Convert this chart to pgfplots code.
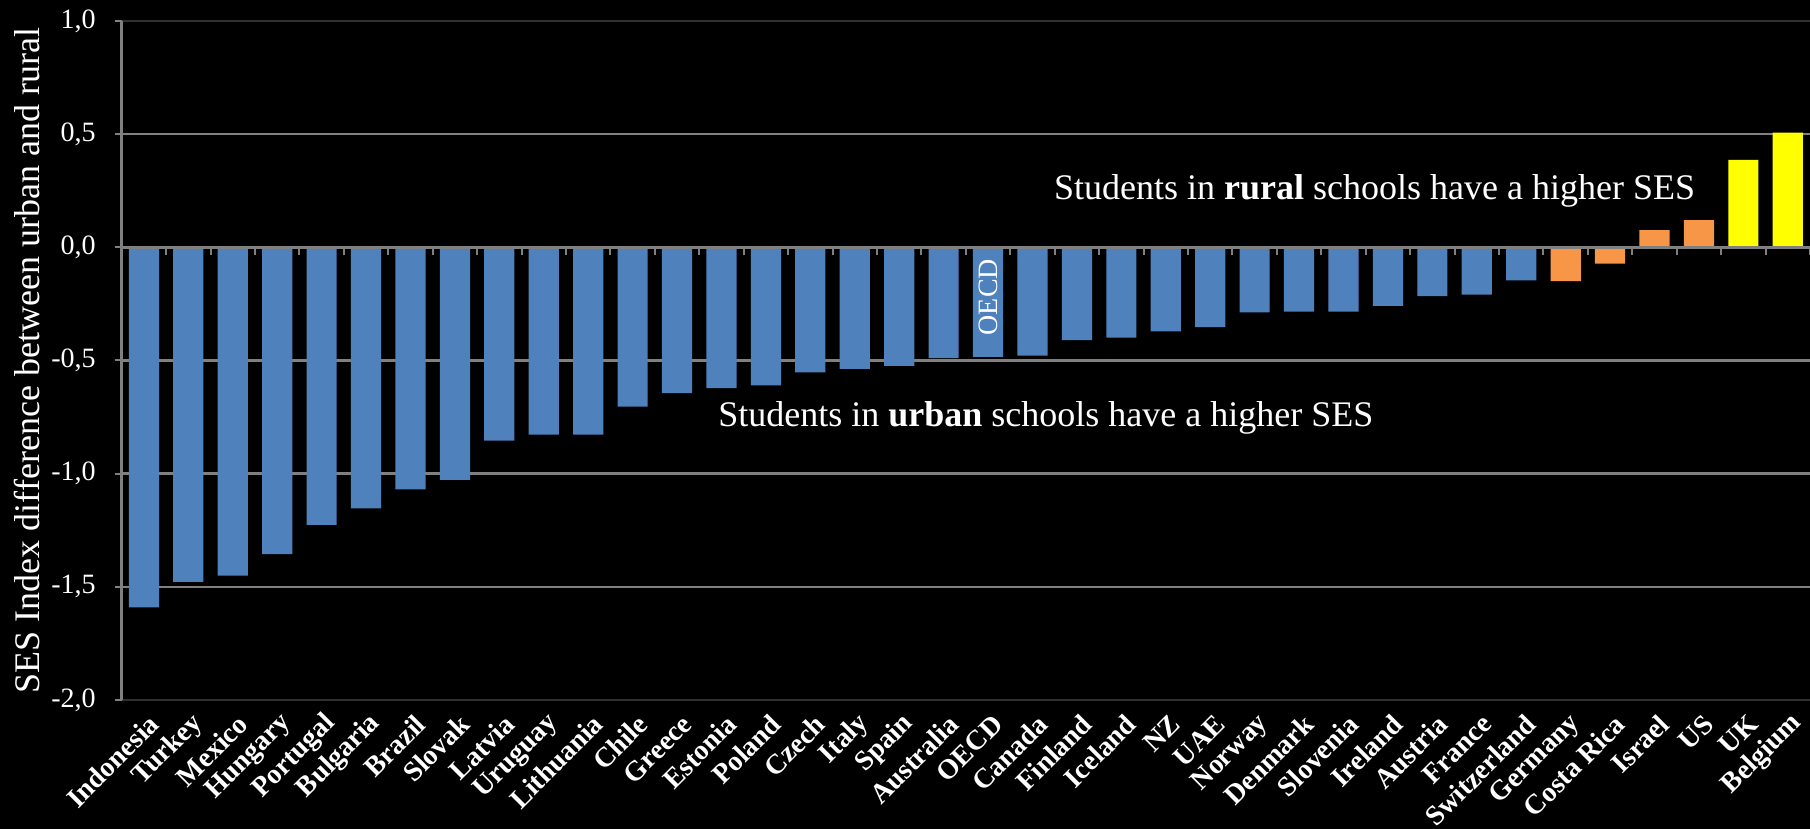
\documentclass[border=0pt]{standalone}
\usepackage{fontspec}
\setmainfont{Liberation Serif}
\usepackage{pgfplots}
\pgfplotsset{compat=1.18}
\definecolor{barblue}{HTML}{4F81BD}
\definecolor{barorange}{HTML}{F79646}
\definecolor{baryellow}{HTML}{FFFF00}
\definecolor{gridgray}{HTML}{808080}
\definecolor{dimgray}{HTML}{303030}
\begin{document}
\begin{tikzpicture}
\fill[black] (-60.85pt,-64.5pt) rectangle (844.15pt,350pt);
\begin{axis}[
  at={(0,0)}, anchor=south west,
  scale only axis, width=844.15pt, height=339.5pt,
  xmin=-0.5, xmax=37.5, ymin=-2, ymax=1,
  ybar, bar width=0.68,
  axis x line*=box, axis y line*=left,
  x axis line style={-, draw=dimgray, line width=1pt},
  y axis line style={-, draw=gridgray, line width=1.2pt},
  xtick={0,...,37},
  xticklabels={Indonesia,Turkey,Mexico,Hungary,Portugal,Bulgaria,Brazil,Slovak,Latvia,Uruguay,Lithuania,Chile,Greece,Estonia,Poland,Czech,Italy,Spain,Australia,OECD,Canada,Finland,Iceland,NZ,UAE,Norway,Denmark,Slovenia,Ireland,Austria,France,Switzerland,Germany,Costa Rica,Israel,US,UK,Belgium},
  xticklabel style={rotate=45, anchor=east, text=white, font=\fontsize{14}{16}\selectfont\bfseries, xshift=2.5pt, yshift=-8pt},
  x tick style={draw=none},
  xtick pos=bottom,
  ytick={-2,-1.5,-1,-0.5,0,0.5,1},
  ytick align=outside,
  ytick style={draw=gridgray, line width=1pt},
  major tick length=3.5pt,
  yticklabel style={text=white, font=\fontsize{14}{16}\selectfont, xshift=-6pt,
    /pgf/number format/fixed, /pgf/number format/fixed zerofill,
    /pgf/number format/precision=1, /pgf/number format/use comma,
    /pgf/number format/assume math mode=true},
  extra y ticks={-1.5,-1,-0.5,0.5},
  extra y tick labels={},
  extra y tick style={ymajorgrids=true, major tick length=0pt},
  major grid style={draw=gridgray, line width=1.2pt},
  ylabel={SES Index difference between urban and rural},
  every axis y label/.style={at={(axis description cs:-0.0561,0.5)}, rotate=90, anchor=center, text=white, font=\fontsize{18}{21}\selectfont},
]
\addplot[fill=barblue, draw=none, bar shift=0pt] coordinates {
(0,-1.591) (1,-1.478) (2,-1.451) (3,-1.355) (4,-1.226) (5,-1.153) (6,-1.069) (7,-1.027)
(8,-0.854) (9,-0.827) (10,-0.827) (11,-0.704) (12,-0.644) (13,-0.622) (14,-0.610) (15,-0.553)
(16,-0.537) (17,-0.524) (18,-0.490) (19,-0.484) (20,-0.478) (21,-0.410) (22,-0.399) (23,-0.371)
(24,-0.353) (25,-0.287) (26,-0.284) (27,-0.284) (28,-0.259) (29,-0.216) (30,-0.209) (31,-0.146)};
\addplot[fill=barorange, draw=none, bar shift=0pt] coordinates {
(32,-0.149) (33,-0.072) (34,0.076) (35,0.120)};
\addplot[fill=baryellow, draw=none, bar shift=0pt] coordinates {
(36,0.386) (37,0.507)};
\node[text=white, font=\fontsize{18}{21}\selectfont] at (axis cs:20.3,-0.755) {Students in \textbf{urban} schools have a higher SES};
\node[text=white, font=\fontsize{18}{21}\selectfont] at (axis cs:27.7,0.25) {Students in \textbf{rural} schools have a higher SES};
\node[text=white, rotate=90, font=\fontsize{14}{16}\selectfont] at (axis cs:19,-0.22) {OECD};
\end{axis}
\begin{axis}[
  at={(0,0)}, anchor=south west,
  scale only axis, width=844.15pt, height=339.5pt,
  xmin=-0.5, xmax=37.5, ymin=-2, ymax=1,
  axis y line=none, axis x line=middle,
  x axis line style={-, draw=gridgray, line width=1.2pt},
  xtick={0.5,1.5,...,37.5}, xticklabels={},
  xtick align=outside,
  major tick length=4pt,
  xtick style={draw=gridgray, line width=1pt},
]
\end{axis}
\pgfresetboundingbox
\useasboundingbox (-60.85pt,-64.5pt) rectangle (844.15pt,350pt);
\end{tikzpicture}
\end{document}
